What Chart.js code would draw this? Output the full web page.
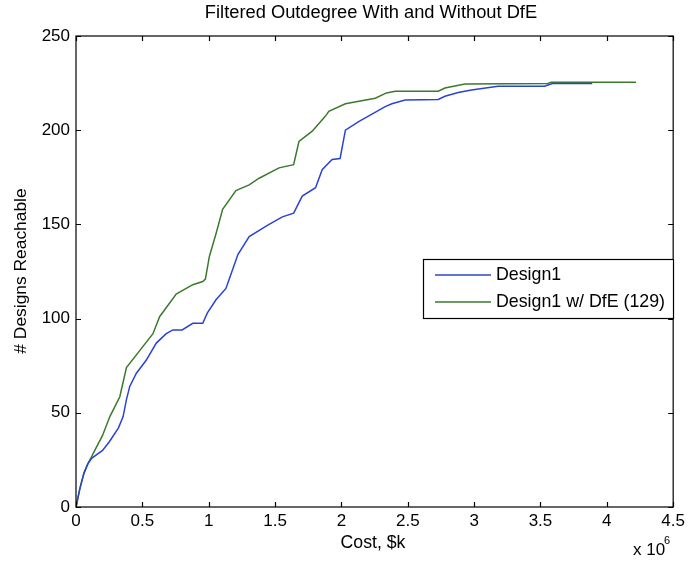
<!DOCTYPE html>
<html>
<head>
<meta charset="utf-8">
<script src="https://cdn.jsdelivr.net/npm/chart.js@4/dist/chart.umd.min.js"></script>
<style>
html,body{margin:0;padding:0;background:#fff;}
#wrap{width:689px;height:563px;position:relative;}
</style>
</head>
<body>
<div id="wrap"><canvas id="c" width="689" height="563"></canvas></div>
<script>
// ---- data ----
const chartTitle = 'Filtered Outdegree With and Without DfE';
const xTitle = 'Cost, $k';
const yTitle = '# Designs Reachable';
const xTicks = [0, 0.5, 1, 1.5, 2, 2.5, 3, 3.5, 4, 4.5];
const yTicks = [0, 50, 100, 150, 200, 250];
const seriesNames = ['Design1', 'Design1 w/ DfE (129)'];

// Design1 (cost in millions of $k, count)
const design1X = [0, 0.03, 0.06, 0.09, 0.12, 0.2, 0.25, 0.32, 0.355, 0.38, 0.405, 0.455, 0.53, 0.605, 0.68, 0.73, 0.8, 0.88, 0.955, 0.99, 1.055, 1.13, 1.155, 1.22, 1.305, 1.43, 1.455, 1.555, 1.64, 1.705, 1.805, 1.855, 1.93, 1.99, 2.03, 2.13, 2.23, 2.33, 2.38, 2.48, 2.73, 2.78, 2.88, 2.98, 3.18, 3.53, 3.59, 3.89];
const design1Y = [0, 10, 18, 23, 26, 30, 34.5, 42, 48, 57, 64, 71, 78, 87, 92, 94, 94, 97.5, 97.5, 103, 110, 116, 121, 134, 143.5, 149, 150, 154, 156, 165, 169.5, 179, 184.5, 185, 200, 204.5, 208.5, 212.5, 214, 216, 216.3, 218, 220, 221.3, 223.3, 223.3, 224.8, 224.8];

// Design1 w/ DfE (129)
const dfeX = [0, 0.03, 0.06, 0.09, 0.12, 0.13, 0.2, 0.255, 0.33, 0.38, 0.48, 0.58, 0.63, 0.755, 0.88, 0.955, 0.975, 1.005, 1.055, 1.105, 1.205, 1.305, 1.38, 1.53, 1.64, 1.68, 1.78, 1.88, 1.905, 2.03, 2.255, 2.34, 2.405, 2.73, 2.78, 2.93, 3.555, 3.58, 4.22];
const dfeY = [0, 10, 18, 23, 27, 28.5, 38, 48, 58.5, 74, 83, 92, 101, 113, 118, 119.7, 121, 133, 145, 158, 168, 171, 174.5, 180, 181.7, 194, 199.5, 207.5, 210, 214, 217, 219.8, 220.7, 220.7, 222.4, 224.5, 224.8, 225.5, 225.5];

const colors = ['#2a44d2', '#3b7a2c'];
const FONT = "'Liberation Sans', Arial, Helvetica, sans-serif";

function pts(xs, ys) { return xs.map((x, i) => ({x: x, y: ys[i]})); }

const decor = {
  id: 'decor',
  afterDraw(chart) {
    const ctx = chart.ctx;
    const a = chart.chartArea;
    const xs = chart.scales.x, ys = chart.scales.y;
    ctx.save();
    ctx.strokeStyle = '#000';
    ctx.lineWidth = 1.2;
    // box
    ctx.strokeRect(a.left, a.top, a.right - a.left, a.bottom - a.top);
    // inward ticks
    const tl = 5;
    ctx.beginPath();
    xTicks.forEach(v => {
      const p = Math.round(xs.getPixelForValue(v)) + 0.5;
      ctx.moveTo(p, a.bottom); ctx.lineTo(p, a.bottom - tl);
      ctx.moveTo(p, a.top); ctx.lineTo(p, a.top + tl);
    });
    yTicks.forEach(v => {
      const p = Math.round(ys.getPixelForValue(v)) + 0.5;
      ctx.moveTo(a.left, p); ctx.lineTo(a.left + tl, p);
      ctx.moveTo(a.right, p); ctx.lineTo(a.right - tl, p);
    });
    ctx.stroke();

    ctx.fillStyle = '#000';
    // title
    ctx.font = '18.3px ' + FONT;
    ctx.textAlign = 'center';
    ctx.textBaseline = 'middle';
    ctx.fillText(chartTitle, 371, 13);
    // x title
    ctx.font = '17.7px ' + FONT;
    ctx.fillText(xTitle, 373, 543);
    // x 10^6
    ctx.font = '17px ' + FONT;
    ctx.textAlign = 'left';
    ctx.fillText('x 10', 633, 550);
    ctx.font = '11px ' + FONT;
    ctx.fillText('6', 664, 541);
    // y title
    ctx.font = '17.4px ' + FONT;
    ctx.save();
    ctx.translate(21, 271);
    ctx.rotate(-Math.PI / 2);
    ctx.textAlign = 'center';
    ctx.fillText(yTitle, 0, 0);
    ctx.restore();

    // legend
    const lx = 423.5, ly = 259.5, lw = 250, lh = 59;
    ctx.fillStyle = '#fff';
    ctx.fillRect(lx, ly, lw, lh);
    ctx.strokeStyle = '#000';
    ctx.lineWidth = 1.2;
    ctx.strokeRect(lx, ly, lw, lh);
    const rows = [275, 302];
    chart.data.datasets.forEach((ds, i) => {
      ctx.strokeStyle = ds.borderColor;
      ctx.lineWidth = 1.5;
      ctx.beginPath();
      ctx.moveTo(435, rows[i]); ctx.lineTo(491, rows[i]);
      ctx.stroke();
      ctx.fillStyle = '#000';
      ctx.font = '17.8px ' + FONT;
      ctx.textAlign = 'left';
      ctx.textBaseline = 'middle';
      ctx.fillText(ds.label, 496, rows[i]);
    });
    ctx.restore();
  }
};

new Chart(document.getElementById('c'), {
  type: 'line',
  data: {
    datasets: [
      {label: seriesNames[0], data: pts(design1X, design1Y), borderColor: colors[0], borderWidth: 1.5, pointRadius: 0, tension: 0, fill: false},
      {label: seriesNames[1], data: pts(dfeX, dfeY), borderColor: colors[1], borderWidth: 1.5, pointRadius: 0, tension: 0, fill: false}
    ]
  },
  options: {
    responsive: false,
    animation: false,
    layout: {padding: {top: 36, right: 13, left: 0, bottom: 0}},
    plugins: {legend: {display: false}, title: {display: false}, tooltip: {enabled: false}},
    scales: {
      x: {
        type: 'linear', min: 0, max: 4.5,
        afterBuildTicks: s => { s.ticks = xTicks.map(v => ({value: v})); },
        afterFit: s => { s.height = 56; },
        grid: {display: false, drawTicks: false},
        border: {display: false},
        ticks: {color: '#000', font: {size: 17, family: FONT}, padding: 4, maxRotation: 0, autoSkip: false,
                callback: v => String(v)}
      },
      y: {
        type: 'linear', min: 0, max: 250,
        afterBuildTicks: s => { s.ticks = yTicks.map(v => ({value: v})); },
        afterFit: s => { s.width = 76; },
        grid: {display: false, drawTicks: false},
        border: {display: false},
        ticks: {color: '#000', font: {size: 17, family: FONT}, padding: 6, autoSkip: false,
                callback: v => String(v)}
      }
    }
  },
  plugins: [decor]
});
</script>
</body>
</html>
